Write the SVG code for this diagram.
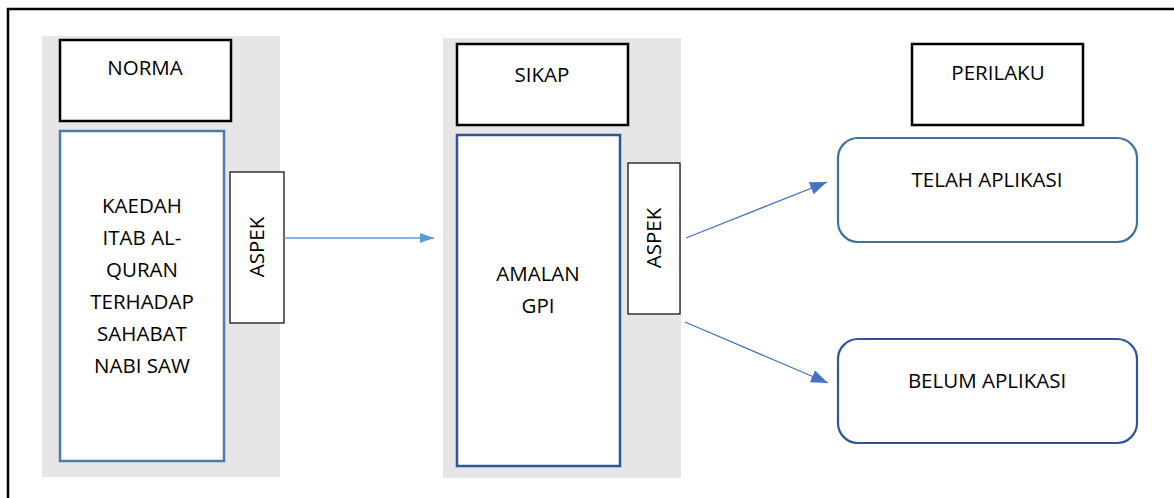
<svg xmlns="http://www.w3.org/2000/svg" width="1174" height="498" viewBox="0 0 1174 498">
  <style>
    .lbl { font-family: "Open Sans", "Liberation Sans", sans-serif; font-size: 20.5px; fill: #000; text-anchor: middle; }
    .panel { fill: #e6e6e6; stroke: none; }
    .head { fill: #fff; stroke: #000; stroke-width: 2.5; }
    .tall1 { fill: #fff; stroke: #4e7bab; stroke-width: 2.5; }
    .tall2 { fill: #fff; stroke: #2f5597; stroke-width: 2.5; }
    .aspek { fill: #fff; stroke: #000; stroke-width: 1.2; }
    .res1 { fill: #fff; stroke: #41719c; stroke-width: 2.2; }
    .res2 { fill: #fff; stroke: #2f5597; stroke-width: 2.2; }
    .c1 { stroke: #5b9bd5; stroke-width: 1.3; fill: none; }
    .c2 { stroke: #4472c4; stroke-width: 1.3; fill: none; }
  </style>
  <defs>
    <marker id="ah1" markerUnits="userSpaceOnUse" markerWidth="16" markerHeight="12" refX="14" refY="5" orient="auto">
      <path d="M0,0 L14,5 L0,10 Z" fill="#5b9bd5"/>
    </marker>
    <marker id="ah2" markerUnits="userSpaceOnUse" markerWidth="20" markerHeight="16" refX="17" refY="6.5" orient="auto">
      <path d="M0,0 L17,6.5 L0,13 Z" fill="#4472c4"/>
    </marker>
  </defs>
  <rect width="1174" height="498" fill="#fff"/>
  <rect id="frame" x="8" y="9" width="1200" height="600" fill="none" stroke="#000" stroke-width="2.5"/>

  <g id="panel-norma">
    <rect class="panel" x="42" y="36" width="238" height="441"/>
  </g>
  <g id="panel-sikap">
    <rect class="panel" x="443" y="38" width="238" height="440"/>
  </g>

  <g id="norma">
    <rect class="head" x="60" y="40" width="171" height="81"/>
    <text class="lbl" x="145" y="75">NORMA</text>
  </g>
  <g id="kaedah">
    <rect class="tall1" x="60" y="131" width="164" height="330"/>
    <text class="lbl" x="142" y="213">KAEDAH</text>
    <text class="lbl" x="142" y="245">ITAB AL-</text>
    <text class="lbl" x="142" y="277">QURAN</text>
    <text class="lbl" x="142" y="309">TERHADAP</text>
    <text class="lbl" x="142" y="341">SAHABAT</text>
    <text class="lbl" x="142" y="373">NABI SAW</text>
  </g>
  <g id="aspek1">
    <rect class="aspek" x="230" y="172" width="54" height="151"/>
    <text class="lbl" transform="translate(264,247) rotate(-90)" x="0" y="0">ASPEK</text>
  </g>

  <g id="sikap">
    <rect class="head" x="457" y="44" width="171" height="81"/>
    <text class="lbl" x="542" y="82">SIKAP</text>
  </g>
  <g id="amalan">
    <rect class="tall2" x="457" y="135" width="163" height="331"/>
    <text class="lbl" x="538" y="281">AMALAN</text>
    <text class="lbl" x="538" y="313">GPI</text>
  </g>
  <g id="aspek2">
    <rect class="aspek" x="628" y="163" width="52" height="151"/>
    <text class="lbl" transform="translate(661,238) rotate(-90)" x="0" y="0">ASPEK</text>
  </g>

  <g id="perilaku">
    <rect class="head" x="912" y="44" width="171" height="81"/>
    <text class="lbl" x="998" y="80">PERILAKU</text>
  </g>
  <g id="telah">
    <rect class="res1" x="838" y="138" width="299" height="104" rx="20" ry="20"/>
    <text class="lbl" x="987" y="187">TELAH APLIKASI</text>
  </g>
  <g id="belum">
    <rect class="res2" x="838" y="339" width="299" height="104" rx="20" ry="20"/>
    <text class="lbl" x="987" y="388">BELUM APLIKASI</text>
  </g>

  <g id="connectors">
    <line class="c1" x1="284" y1="238" x2="434" y2="238" marker-end="url(#ah1)"/>
    <line class="c2" x1="686" y1="238" x2="827" y2="182" marker-end="url(#ah2)"/>
    <line class="c2" x1="685" y1="322" x2="828" y2="383" marker-end="url(#ah2)"/>
  </g>
</svg>
